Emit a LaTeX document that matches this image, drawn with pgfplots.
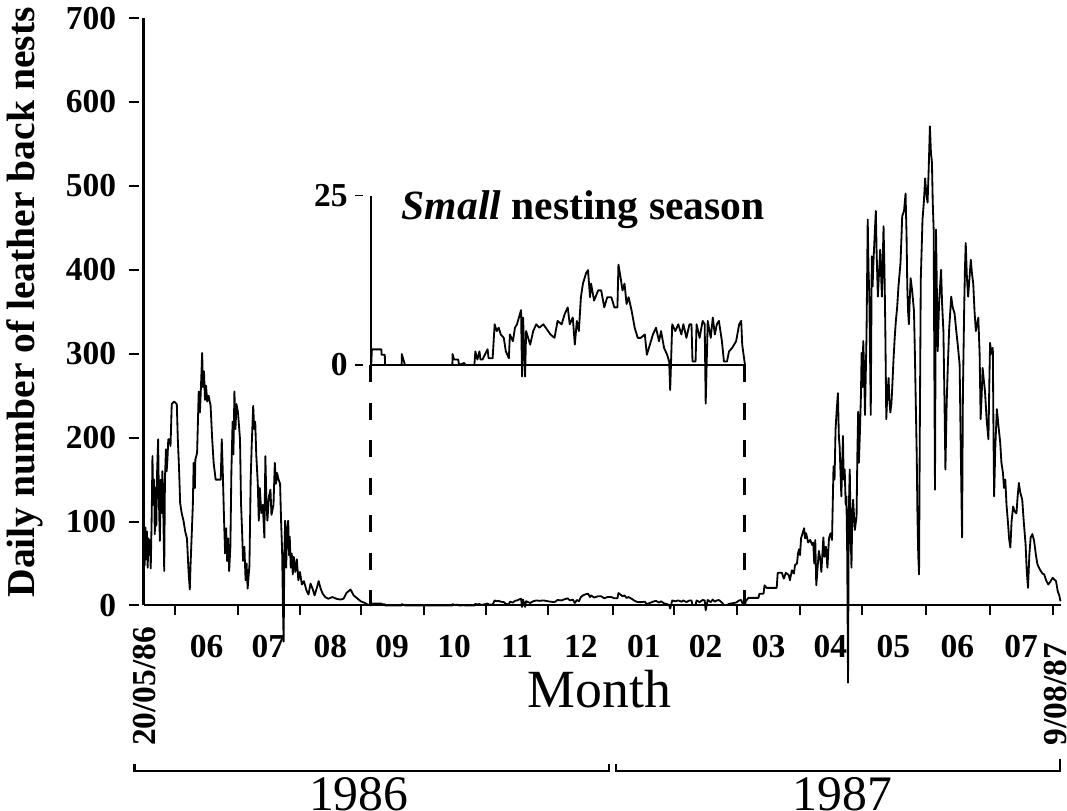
\documentclass[border=0pt]{standalone}
\usepackage{pgfplots}
\pgfplotsset{compat=1.18}
\usepackage{pgfplotstable}
\usepackage{fontspec}
\setmainfont{Liberation Serif}

% x = position along the time axis (0 = 20/05/86, 904 = 9/08/87), y = nests per day
\pgfplotstableread{
x y
0 70
1 48
1.7 93
2.5 55
3.3 88
4 45
4.7 80
5.5 60
6.3 78
7 44
8 110
8.7 178
9.5 120
10.3 150
11 85
11.7 140
12.5 95
13.3 160
14.3 198
15 130
16 77
17 150
17.7 110
18.5 160
19.3 120
20.3 41
21 150
22 186
22.7 160
23.5 175
24.3 198
25.5 198
26.5 190
27.7 240
30 243
32.7 240
33.7 198
35 160
36 122
37.5 110
39.3 101
41 88
42.7 80
44.3 40
45.5 19
46.3 50
47.7 94
48.5 120
49.3 170
50.5 140
51 174
52.7 182
54.3 255
55.5 230
56.5 260
57.7 301
58.5 260
59.5 279
60.5 245
61.5 262
62.7 243
64 250
66 238
67.5 200
69 170
71 150
76 150
77 198
78 160
79.3 101
80.3 62
81.3 92
82.3 53
83.3 80
84.3 41
85.5 70
86.5 160
87.7 219
88.5 180
89.5 255
90.5 210
91.5 240
93 230
95 198
96 122
97 90
98 53
99.3 70
100.5 30
101.5 50
102.5 20
104.3 48
105.5 150
106.5 190
108 238
109 210
110 219
111 180
112.5 146
113.5 101
114.5 140
116 110
117.5 120
119 81
120 178
121 125
122 101
123.5 130
125 138
126 108
128 120
129.3 170
130.5 145
131.5 158
133 150
134.5 145
135.5 100
136.5 65
137.3 0
138 -43
138.7 60
139.5 101
140.5 45
141.3 90
142.5 101
143.3 60
144 82
145 45
146 62
147 37
148 58
149.5 40
151 55
152.5 30
154 40
156 25
158 29
160.5 18
162.5 13
164.5 26
166.5 20
168.5 12
170.5 20
172.5 29
174.5 20
176.5 14
179 10
182 8
186 10
190 8
194 7
197 8
200 15
204 19
207 12
210 9
214 5
218 3
221 1
224.3 0
}\leftdata

\pgfplotstableread{
x y
224.3 0
225 2.3
234.3 2.3
234.5 1.5
237.7 1.5
238 0
254.3 0
254.5 1.6
256 0.8
257.7 0
304.3 0
304.5 1.6
306 0.8
310 0.8
311 0
316 0.3
317 0
326 0
327 2
329 0.8
331 2
332 0.8
334 0.8
339 2.3
340 1
344 1
346 6
348 5
350 5.5
352 4.5
355 4
357 2
360 1
361 4.5
364 3.5
366 5.5
368 6
372 8.1
373 -1.7
374 7
376 -1.7
377 5
381 3
384 5
387 6
390 5.5
394 6
401 4.5
405 4
408 6.5
412 6
415 7.5
418 8.5
420 6
423 7
425 3
427 6.5
429 5
431 10
433 12
436 13.5
438 14
440 10
441 12
444 9.5
448 11
451 11
454 8.5
457 10
461 10
464 8.5
467 8.5
468 14.8
470 13
472 11
474 12
476 9
478 10
481 8
484 5.5
487 4
490 4
494 4.5
496 1.5
499 3
502 4.5
505 5.5
508 3.5
510 5
513 2.5
516 1.5
518 0.5
519 -3.7
521 6
524 5
527 6
530 4.5
532 6
535 4
538 6
540 6
541 0.5
544 0.5
545 6
548 4
551 6.5
553 6
554 -5.7
556 6.5
559 4
561 7
563 4.5
565 6
567 6.5
570 3.5
572 0.5
575 0.5
577 2
580 2.5
584 3.5
587 6
589 6.5
590 3
592.7 0
}\middata

\pgfplotstableread{
x y
592.7 0
593.5 5
596 9
606 9
607 14
611 14
612 24
614 21
624 21
625 39
629 39
631 32
633 39
636 36
637 30
639 42
641 38
642 48
644 50
645 62
646 67
647 60
648 80
651 92
652 80
653 86
655 75
657 78
659 72
660 75
661 50
662 78
663 24
664 40
665.5 65
667 55
668 40
670 81
671 58
672.5 70
674 45
675.5 80
677 86
678.5 78
680 166
681 150
682 210
683 230
684.3 253
685.3 200
686 190
687.7 130
688.5 165
689.3 202
690 150
691 162
692 120
692.7 130
693.5 60
694.3 -92
695 110
696 162
697 80
697.7 45
698.5 110
699.3 126
701 90
702.7 106
703.5 180
704.3 231
705 170
706 206
707 250
707.7 301
708.5 260
709.3 315
710.2 280
711 227
712.5 320
713.7 460
714.5 400
715.3 368
716 300
716.7 227
717.7 416
718.5 380
719.3 408
720.5 440
721.7 470
722.5 420
723.7 368
725 400
726 424
727 390
727.7 368
728.5 410
729.3 452
730.2 400
731 335
732 222
733 250
734.3 271
735 245
736 230
737 240
737.7 255
739 290
740.3 319
741.5 340
742.7 355
744 380
746 408
747 440
747.7 464
749.5 470
751 491
752 440
752.7 380
753.5 350
754.3 335
755 360
756 390
757.5 375
759.3 351
760.2 300
761 246
762 180
762.7 110
763.5 60
764.3 37
765 200
766 388
767 430
767.7 460
769 480
770.3 509
771.5 490
772.7 480
773.8 520
775 571
776 540
777 528
777.8 480
778.7 448
779.3 300
780 138
781 448
781.8 380
782.7 303
784 360
786 400
787 360
788.3 327
789.3 250
790.3 162
791.5 240
792.7 287
794 330
796 368
797.5 355
799.3 348
801 327
802.5 310
804.3 287
805.5 180
806.7 81
807.5 250
808.7 348
809.5 400
810.3 432
811.5 390
812.7 368
814 390
815.3 412
816.5 395
817.7 384
819 350
820.3 327
821.5 335
822.7 343
824 300
825 222
826 250
827 283
828 270
829.3 255
831 220
832.7 198
833.5 260
834.3 313
835.5 300
837 307
837.7 200
838.3 130
839.5 190
841 234
842.5 215
844.3 194
845.5 170
847 158
848 140
849.3 150
850.5 120
852 98
853 80
854.3 69
855.5 100
857 118
858.5 112
860.3 110
861.5 130
862.7 146
864 135
866 126
867.5 100
869.3 73
870.5 40
871.7 21
873 60
874.3 81
876 85
877.7 77
879.5 60
881 49
882.5 45
884.3 41
886 38
887.7 37
889.5 30
891.7 25
893.5 28
896 33
897.5 31
899.3 29
901 17
902.5 12
903.7 5
}\rightdata

\begin{document}
\begin{tikzpicture}
\begin{axis}[
  name=main,
  scale only axis,
  width=452pt, height=289.5pt,
  xmin=0, xmax=904, ymin=0, ymax=700,
  enlargelimits=false,
  clip=false,
  axis x line*=bottom,
  axis y line*=left,
  axis line style={line width=1pt},
  y axis line style={line width=1.6pt},
  tick align=outside,
  major tick length=4.5pt,
  tick style={black, line width=1pt},
  y tick style={xshift=-2.5pt},
  ytick={0,100,...,700},
  xtick={31,92.7,154,214,276,337,399,463,523,585,647,708,771,834,896},
  xticklabels={},
  extra x ticks={62,123,184,245,306,368,431,493,554,616,677,739,802,865},
  extra x tick labels={06,07,08,09,10,11,12,01,02,03,04,05,06,07},
  extra x tick style={major tick length=0pt,
    tick label style={yshift=-11pt}},
  /pgf/number format/assume math mode=true,
  tick label style={font=\bfseries\fontsize{16.5}{18}\selectfont},
  yticklabel style={xshift=-5.5pt},
  ylabel={Daily number of leather back nests},
  ylabel style={at={(rel axis cs:-0.1294,0.516)}, anchor=center,
    font=\bfseries\fontsize{19.5}{22}\selectfont},
  xlabel={Month},
  xlabel style={at={(rel axis cs:0.4967,-0.110)}, anchor=north, inner sep=0pt,
    font=\fontsize{26.5}{30}\selectfont},
]
\addplot[black, line width=0.9pt, line join=round] table[x=x, y=y] {\leftdata};
\addplot[black, line width=0.9pt, line join=round] table[x=x, y=y] {\middata};
\addplot[black, line width=0.9pt, line join=round] table[x=x, y=y] {\rightdata};

\coordinate (insetorigin) at (axis cs:224,286.6);
\draw[black, line width=1.5pt, dash pattern=on 8.5pt off 10pt]
  (axis cs:223.3,286.6) -- (axis cs:223.3,0);
\draw[black, line width=1.5pt, dash pattern=on 8.5pt off 10pt]
  (axis cs:592.5,286.6) -- (axis cs:592.5,0);

% date labels at both ends of the time axis
\node[rotate=90, anchor=east, inner sep=0pt,
  font=\bfseries\fontsize{16.5}{20}\selectfont] at (axis cs:1,-25) {20/05/86};
\node[rotate=90, anchor=east, inner sep=0pt,
  font=\bfseries\fontsize{16.5}{20}\selectfont] at (axis cs:899,-44) {9/08/87};

% year brackets
\draw[black, line width=1pt] (axis cs:-9,-189) -- (axis cs:-9,-197)
  -- (axis cs:459,-197) -- (axis cs:459,-189);
\draw[black, line width=1pt] (axis cs:466,-189) -- (axis cs:466,-197)
  -- (axis cs:903,-197) -- (axis cs:903,-183);
\node[anchor=north, inner sep=0pt, font=\fontsize{24.5}{28}\selectfont]
  at (axis cs:212,-204) {1986};
\node[anchor=north, inner sep=0pt, font=\fontsize{24.5}{28}\selectfont]
  at (axis cs:689,-204) {1987};
\end{axis}

\begin{axis}[
  at={(insetorigin)}, anchor=south west,
  scale only axis,
  width=184pt, height=83.5pt,
  xmin=224, xmax=592, ymin=0, ymax=25,
  enlargelimits=false,
  clip=false,
  axis x line*=bottom,
  axis y line*=left,
  axis line style={line width=0.9pt},
  tick align=outside,
  major tick length=4pt,
  tick style={black, line width=0.9pt},
  y tick style={xshift=-4pt},
  xtick=\empty,
  ytick={0,25},
  /pgf/number format/assume math mode=true,
  tick label style={font=\bfseries\fontsize{16.5}{18}\selectfont},
  yticklabel style={xshift=-4pt},
]
\addplot[black, line width=0.9pt, line join=round] table[x=x, y=y] {\middata};
\node[anchor=base west, inner sep=0pt, font=\fontsize{20.5}{22}\selectfont]
  at (axis cs:254,21.4) {\textbf{\textit{Small}} \textbf{nesting season}};
\end{axis}
\end{tikzpicture}
\end{document}
